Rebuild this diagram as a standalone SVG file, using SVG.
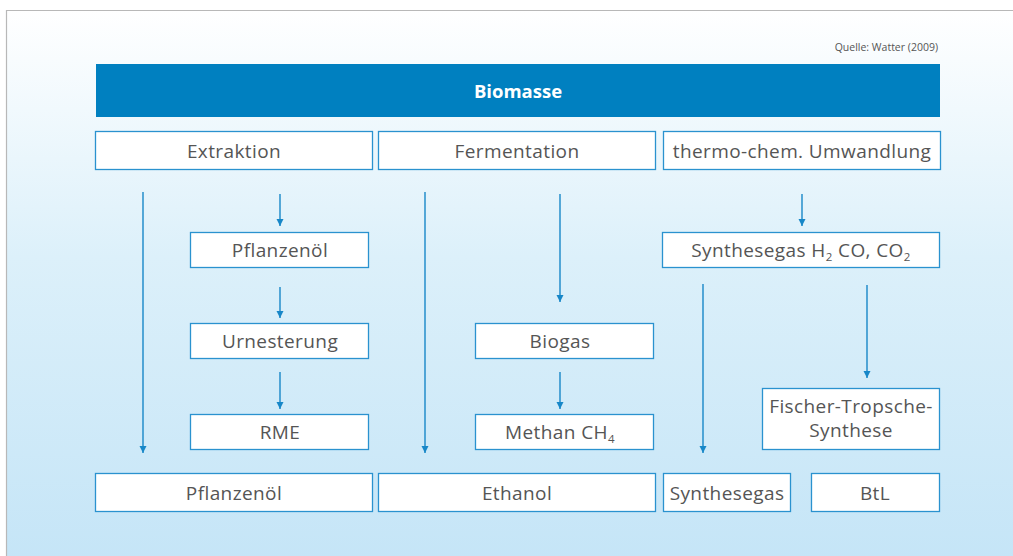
<svg xmlns="http://www.w3.org/2000/svg" width="1013" height="556" viewBox="0 0 1013 556">
<defs>
<linearGradient id="bg" x1="0" y1="0" x2="0" y2="1">
<stop offset="0" stop-color="#ffffff"/>
<stop offset="0.45" stop-color="#dcf0fa"/>
<stop offset="1" stop-color="#c5e5f7"/>
</linearGradient>
<marker id="ah" markerWidth="8" markerHeight="8" refX="7" refY="4" orient="auto" markerUnits="userSpaceOnUse" viewBox="0 0 8 8">
<path d="M0,0.5 L7,4 L0,7.5 Z" fill="#1787c8"/>
</marker>
<style>
.box{fill:#ffffff;stroke:#2a92cf;stroke-width:1.3}
.t{font-family:"Open Sans","Noto Sans","DejaVu Sans",sans-serif;font-size:19px;letter-spacing:0.4px;fill:#555555;text-anchor:middle}
.ca{stroke:#1787c8;stroke-width:1.4;fill:none;marker-end:url(#ah)}
</style>
</defs>
<rect x="0" y="0" width="1013" height="556" fill="#ffffff"/>
<rect x="6" y="10" width="1010" height="550" fill="url(#bg)"/>
<path d="M6.5,556 L6.5,10.5 L1013,10.5" fill="none" stroke="#b8b8b8" stroke-width="1.2"/>
<text x="938" y="51" font-family="'Open Sans','Noto Sans',sans-serif" font-size="10.5" fill="#555555" text-anchor="end">Quelle: Watter (2009)</text>

<g id="biomasse">
<rect x="96" y="64" width="844" height="53" fill="#0080c0"/>
<text x="518" y="98" font-family="'Open Sans','Noto Sans',sans-serif" font-size="18.5" font-weight="bold" fill="#ffffff" text-anchor="middle">Biomasse</text>
</g>

<g id="connectors">
<line class="ca" x1="143" y1="192" x2="143" y2="453"/>
<line class="ca" x1="280" y1="194" x2="280" y2="226"/>
<line class="ca" x1="280" y1="287" x2="280" y2="318"/>
<line class="ca" x1="280" y1="372" x2="280" y2="409"/>
<line class="ca" x1="425" y1="192" x2="425" y2="453"/>
<line class="ca" x1="560" y1="194" x2="560" y2="302"/>
<line class="ca" x1="560" y1="372" x2="560" y2="409"/>
<line class="ca" x1="802" y1="194" x2="802" y2="226"/>
<line class="ca" x1="703" y1="284" x2="703" y2="453"/>
<line class="ca" x1="867" y1="285" x2="867" y2="378"/>
</g>

<g id="extraktion"><rect class="box" x="95.5" y="131.5" width="277" height="38"/><text class="t" x="234" y="158">Extraktion</text></g>
<g id="fermentation"><rect class="box" x="378.5" y="131.5" width="277" height="38"/><text class="t" x="517" y="158">Fermentation</text></g>
<g id="thermo"><rect class="box" x="663.5" y="131.5" width="277" height="38"/><text class="t" x="802" y="158">thermo-chem. Umwandlung</text></g>

<g id="pflanzenoel1"><rect class="box" x="190.5" y="232.5" width="178" height="35"/><text class="t" x="280" y="257">Pflanzenöl</text></g>
<g id="urnesterung"><rect class="box" x="190.5" y="323.5" width="178" height="35"/><text class="t" x="280" y="348">Urnesterung</text></g>
<g id="rme"><rect class="box" x="190.5" y="414.5" width="178" height="35"/><text class="t" x="280" y="439">RME</text></g>

<g id="biogas"><rect class="box" x="475.5" y="323.5" width="178" height="35"/><text class="t" x="560" y="348">Biogas</text></g>
<g id="methan"><rect class="box" x="475.5" y="414.5" width="178" height="35"/><text class="t" x="560" y="439">Methan CH<tspan font-size="11.5" dy="4">4</tspan></text></g>

<g id="synthesegas-h2"><rect class="box" x="662.5" y="232.5" width="277" height="35"/><text class="t" x="801" y="257">Synthesegas H<tspan font-size="11.5" dy="4">2</tspan><tspan dy="-4"> CO, CO</tspan><tspan font-size="11.5" dy="4">2</tspan></text></g>
<g id="fischer"><rect class="box" x="762.5" y="388.5" width="177" height="61"/><text class="t" x="851" y="413">Fischer-Tropsche-</text><text class="t" x="851" y="437">Synthese</text></g>

<g id="pflanzenoel2"><rect class="box" x="95.5" y="473.5" width="277" height="38"/><text class="t" x="234" y="500">Pflanzenöl</text></g>
<g id="ethanol"><rect class="box" x="378.5" y="473.5" width="277" height="38"/><text class="t" x="517" y="500">Ethanol</text></g>
<g id="synthesegas"><rect class="box" x="663.5" y="473.5" width="127" height="38"/><text class="t" x="727" y="500">Synthesegas</text></g>
<g id="btl"><rect class="box" x="811.5" y="473.5" width="128" height="38"/><text class="t" x="875" y="500">BtL</text></g>
</svg>
